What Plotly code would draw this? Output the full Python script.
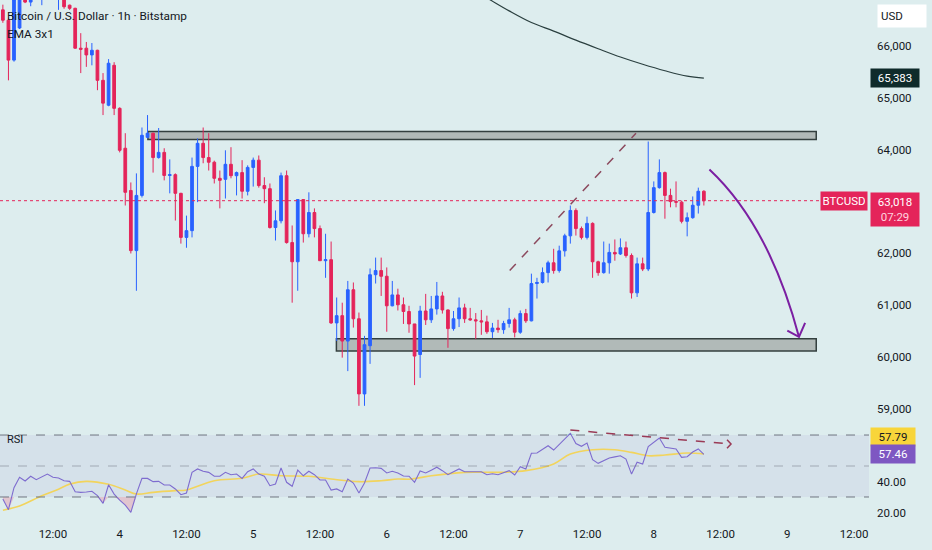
import numpy as np
import pandas as pd
import plotly.graph_objects as go

# BTCUSD 1h candles (Bitstamp), first bar on the 3rd at 03:00
start = "2024-10-03 03:00"
opens = [
    66700, 66500, 65730, 66350, 67000, 66850, 66950, 67100, 67200, 67100,
    67000, 67050, 66790, 66730, 65960, 65960, 65830, 65920, 65340, 64860,
    65630, 64800, 64030, 63215, 62055, 63120, 64240, 64320, 63850, 63950,
    63505, 63520, 63160, 62310, 62440, 63680, 64125, 63850, 63760, 63450,
    63430, 63720, 63500, 63560, 63200, 63660, 63800, 63310, 63250, 62500,
    62630, 63500, 62210, 61840, 63040, 62380, 62790, 62480, 61860, 61880,
    60660, 60800, 60310, 61300, 60740, 59290, 60220, 61590, 61670, 61560,
    60990, 61200, 61010, 60880, 60640, 60050, 60890, 60720, 60930, 61180,
    60910, 60550, 60740, 60950, 60740, 60720, 60700, 60680, 60490, 60560,
    60530, 60650, 60720, 60480, 60840, 60700, 61420, 61440, 61630, 61820,
    61670, 62050, 62340, 62830, 62480, 62310, 62580, 61840, 61630, 61820,
    62020, 61990, 62110, 61960, 61240, 61800, 61700, 62790, 63270, 63560,
    63120, 63000, 62990, 62620, 62690, 62930, 63200,
]
highs = [
    66800, 66550, 67000, 67150, 67050, 66950, 67200, 67250, 67300, 67200,
    67150, 67100, 66800, 66740, 66250, 66080, 66060, 65930, 65480, 65750,
    65690, 64820, 64320, 63370, 63545, 64430, 64670, 64330, 64420, 64030,
    63815, 63545, 63170, 62730, 63850, 64220, 64430, 64320, 63790, 63600,
    63990, 64050, 63580, 63800, 63700, 63850, 63890, 63470, 63350, 62830,
    63560, 63600, 62540, 63040, 63050, 63180, 62870, 62540, 62380, 62230,
    61150, 61050, 61470, 61440, 60860, 60410, 61710, 61920, 61920, 61730,
    61470, 61320, 61150, 60990, 60640, 60990, 61220, 61180, 61450, 61260,
    60920, 60890, 61150, 61030, 60950, 60850, 60910, 60800, 60660, 60720,
    60700, 60950, 60760, 60900, 60930, 61610, 61530, 61730, 61860, 62090,
    62150, 62380, 62925, 62870, 62520, 62710, 62600, 61860, 62230, 62190,
    62270, 62290, 62230, 62000, 61920, 61920, 64160, 63390, 63815, 63580,
    63250, 63390, 63020, 62790, 63100, 63270, 63220,
]
lows = [
    66450, 65340, 65700, 66330, 66830, 66770, 66920, 66790, 67000, 66950,
    66700, 66720, 66700, 65950, 65480, 65600, 65630, 65150, 64670, 64840,
    64670, 63950, 62925, 62000, 61280, 63080, 64220, 63560, 63830, 63410,
    63160, 62635, 62190, 62110, 62310, 62990, 63740, 63600, 63350, 62870,
    63060, 63450, 63120, 63060, 63120, 63290, 63270, 62970, 62480, 62250,
    62580, 62190, 61050, 61280, 62210, 62310, 62310, 61860, 61530, 60640,
    60310, 59990, 59730, 60570, 59060, 59060, 59870, 61420, 61180, 60490,
    60980, 60900, 60640, 60470, 59460, 59600, 60620, 60660, 60820, 60840,
    60180, 60510, 60580, 60660, 60700, 60350, 60430, 60450, 60370, 60470,
    60450, 60570, 60380, 60450, 60660, 60690, 61130, 61420, 61440, 61610,
    61630, 61940, 62190, 62345, 62270, 62270, 61530, 61570, 61610, 61610,
    61860, 61970, 61920, 61130, 61160, 61660, 61660, 62770, 63250, 62670,
    62890, 62890, 62580, 62330, 62670, 62770, 62925,
]
closes = [
    66500, 65730, 66900, 67050, 66850, 66900, 67100, 67200, 67100, 67000,
    67050, 66760, 66730, 65960, 65940, 65830, 65920, 65340, 64900, 65670,
    64800, 63990, 63180, 62055, 63120, 64280, 64320, 63850, 63950, 63505,
    63520, 63160, 62310, 62440, 63680, 64125, 63850, 63760, 63450, 63410,
    63720, 63500, 63560, 63200, 63660, 63800, 63310, 63250, 62500, 62630,
    63500, 62210, 61840, 63040, 62380, 62790, 62480, 61860, 61880, 60660,
    60800, 60310, 61300, 60740, 59290, 60240, 61590, 61670, 61560, 60990,
    61200, 61010, 60880, 60640, 60020, 60890, 60720, 60930, 61180, 60910,
    60550, 60740, 60950, 60740, 60720, 60700, 60680, 60490, 60560, 60530,
    60650, 60720, 60480, 60840, 60700, 61420, 61440, 61630, 61820, 61670,
    62050, 62340, 62830, 62480, 62310, 62580, 61840, 61630, 61820, 62020,
    61990, 62110, 61960, 61240, 61800, 61700, 62790, 63270, 63560, 63120,
    63000, 62990, 62620, 62690, 62930, 63200, 63018,
]
rsi = [
    28.7, 21.8, 36.0, 42.7, 40.3, 43.4, 41.2, 43.0, 44.8, 42.7,
    42.3, 40.5, 40.1, 33.4, 33.0, 33.2, 33.7, 30.9, 25.9, 37.9,
    31.9, 28.0, 24.8, 20.1, 32.0, 42.0, 42.0, 39.9, 40.1, 37.7,
    37.7, 35.2, 31.5, 32.6, 45.9, 48.1, 46.6, 45.9, 43.4, 43.4,
    45.9, 44.4, 44.8, 42.0, 46.3, 48.1, 44.8, 43.4, 37.3, 38.4,
    48.7, 39.5, 36.9, 47.4, 43.7, 46.6, 44.4, 41.0, 41.0, 34.5,
    35.2, 33.4, 41.6, 39.0, 32.6, 39.0, 48.7, 48.9, 48.5, 45.5,
    46.6, 45.5, 43.6, 43.4, 39.5, 46.8, 45.5, 47.3, 49.2, 47.0,
    44.4, 46.3, 48.1, 46.3, 46.2, 46.0, 46.3, 44.4, 45.0, 44.4,
    45.7, 47.0, 44.2, 49.6, 48.1, 58.2, 58.4, 60.8, 63.1, 60.3,
    64.0, 67.3, 71.1, 64.5, 62.7, 64.8, 54.1, 51.7, 53.6, 55.2,
    55.9, 56.6, 54.5, 44.8, 52.4, 51.3, 62.5, 65.4, 68.1, 62.1,
    61.5, 61.0, 55.6, 56.0, 59.0, 61.0, 57.5,
]

# RSI moving average and the long EMA, read at a few hours after the 4th 00:00
ma_hours = [-21, -18, -14, -11, -9, -6, -2, 1, 3, 6, 10, 12, 17, 22, 25, 29, 34, 38,
            43, 47, 50, 52, 54, 56, 62, 68, 73, 78, 81, 85, 89, 92, 95, 98, 102, 105]
rsi_ma = [21.5, 24.2, 30.8, 35.0, 38.3, 40.1, 38.2, 34.5, 31.9, 33.0, 34.1, 34.5,
          40.5, 42.1, 44.8, 43.7, 43.4, 41.6, 39.9, 40.5, 41.6, 41.5, 42.5, 43.7,
          45.9, 45.9, 47.0, 51.3, 57.7, 60.5, 60.5, 58.8, 56.6, 57.1, 58.4, 57.8]
ema_hours = [64, 66, 70, 74, 78, 82, 86, 90, 94, 98, 102, 105]
ema = [67050, 66930, 66680, 66455, 66290, 66115, 65950, 65790, 65650, 65525, 65420, 65383]

# 63,000 sits under the last-price badge, so it is not listed
price_ticks = [59000, 60000, 61000, 62000, 64000, 65000, 66000]
rsi_ticks = [20, 40]
tick_times = pd.date_range("2024-10-03 12:00", "2024-10-09 12:00", freq="12h")
tick_text = ["12:00", "4", "12:00", "5", "12:00", "6", "12:00", "7", "12:00", "8", "12:00", "9", "12:00"]

last_price = 63018
ema_last = 65383
rsi_last = 57.46
rsi_ma_last = 57.79

UP = "#2962ff"
DOWN = "#e4245a"
BG = "#ddedee"
TXT = "#131722"
FONT = "Roboto"

day4 = pd.Timestamp("2024-10-04 00:00")
times = pd.date_range(start, periods=len(closes), freq="h")
ma_times = day4 + pd.to_timedelta(ma_hours, unit="h")
ema_times = day4 + pd.to_timedelta(ema_hours, unit="h")


def pt(ts):
    # date format used inside shape paths
    return pd.Timestamp(ts).strftime("%Y-%m-%d_%H:%M:%S")


fig = go.Figure()

fig.add_trace(go.Candlestick(
    x=times, open=opens, high=highs, low=lows, close=closes,
    increasing=dict(line=dict(color=UP, width=1), fillcolor=UP),
    decreasing=dict(line=dict(color=DOWN, width=1), fillcolor=DOWN),
    whiskerwidth=0, showlegend=False, hoverinfo="skip",
))
fig.add_trace(go.Scatter(
    x=ema_times, y=ema, mode="lines", line=dict(color="#2a3f3f", width=1.2, shape="spline"),
    showlegend=False, hoverinfo="skip",
))

# RSI pane
rsi_arr = np.array(rsi)
n = len(rsi)
fig.add_trace(go.Scatter(x=times, y=[30] * n, yaxis="y2", mode="lines", line=dict(width=0),
                         showlegend=False, hoverinfo="skip"))
fig.add_trace(go.Scatter(x=times, y=np.minimum(rsi_arr, 30), yaxis="y2", mode="lines",
                         line=dict(width=0), fill="tonexty", fillcolor="rgba(242,54,100,0.22)",
                         showlegend=False, hoverinfo="skip"))
fig.add_trace(go.Scatter(x=times, y=[70] * n, yaxis="y2", mode="lines", line=dict(width=0),
                         showlegend=False, hoverinfo="skip"))
fig.add_trace(go.Scatter(x=times, y=np.maximum(rsi_arr, 70), yaxis="y2", mode="lines",
                         line=dict(width=0), fill="tonexty", fillcolor="rgba(8,153,129,0.22)",
                         showlegend=False, hoverinfo="skip"))
fig.add_trace(go.Scatter(x=ma_times, y=rsi_ma, yaxis="y2", mode="lines",
                         line=dict(color="#f2d45c", width=1.6, shape="spline"),
                         showlegend=False, hoverinfo="skip"))
fig.add_trace(go.Scatter(x=times, y=rsi, yaxis="y2", mode="lines",
                         line=dict(color="#7e6ccf", width=1.1),
                         showlegend=False, hoverinfo="skip"))

shapes = [
    dict(type="rect", xref="paper", yref="y2", x0=0, x1=1, y0=30, y1=70,
         fillcolor="rgba(126,87,194,0.08)", line=dict(width=0), layer="below"),
    dict(type="line", xref="paper", yref="y2", x0=0, x1=1, y0=70, y1=70,
         line=dict(color="#6f7580", width=1, dash="dash")),
    dict(type="line", xref="paper", yref="y2", x0=0, x1=1, y0=50, y1=50,
         line=dict(color="rgba(111,117,128,0.5)", width=1, dash="dash")),
    dict(type="line", xref="paper", yref="y2", x0=0, x1=1, y0=30, y1=30,
         line=dict(color="#6f7580", width=1, dash="dash")),
    dict(type="line", xref="paper", yref="y", x0=0, x1=1, y0=last_price, y1=last_price,
         line=dict(color="#e4245a", width=1, dash="dot")),
    # resistance / support zones
    dict(type="rect", xref="x", yref="y", x0="2024-10-04 05:04", x1="2024-10-09 05:12",
         y0=64200, y1=64355, fillcolor="#b1bab8", line=dict(color="#34403f", width=1.5),
         layer="below"),
    dict(type="rect", xref="x", yref="y", x0="2024-10-05 14:57", x1="2024-10-09 05:12",
         y0=60120, y1=60355, fillcolor="#b1bab8", line=dict(color="#34403f", width=1.5),
         layer="below"),
    # rising dashed line
    dict(type="line", xref="x", yref="y", x0="2024-10-06 22:06", y0=61670,
         x1="2024-10-07 20:48", y1=64320, line=dict(color="#8c4a5e", width=1.5, dash="dash")),
    # RSI divergence arrow
    dict(type="line", xref="x", yref="y2", x0="2024-10-07 09:00", y0=73.2,
         x1="2024-10-08 13:53", y1=64.2, line=dict(color="#9a3a56", width=1.5, dash="dash")),
    dict(type="path", xref="x", yref="y2",
         path=f"M {pt('2024-10-08 13:10')},67.0 L {pt('2024-10-08 13:53')},64.2 L {pt('2024-10-08 13:10')},61.4",
         line=dict(color="#9a3a56", width=1.5)),
    # projected move down to support
    dict(type="path", xref="x", yref="y",
         path=f"M {pt('2024-10-08 10:00')},63620 Q {pt('2024-10-08 20:45')},62540 {pt('2024-10-09 02:06')},60390",
         line=dict(color="#7b1fa2", width=2)),
    dict(type="path", xref="x", yref="y",
         path=f"M {pt('2024-10-09 00:00')},60510 L {pt('2024-10-09 02:06')},60390 L {pt('2024-10-09 03:12')},60662",
         line=dict(color="#7b1fa2", width=2)),
]

annotations = [
    dict(xref="paper", yref="paper", x=0, y=1, xanchor="left", yanchor="top", xshift=5, yshift=-7,
         text="Bitcoin / U.S. Dollar · 1h · Bitstamp", showarrow=False,
         font=dict(family=FONT, size=11.8, color=TXT)),
    dict(xref="paper", yref="paper", x=0, y=1, xanchor="left", yanchor="top", xshift=5, yshift=-25,
         text="EMA 3x1", showarrow=False, font=dict(family=FONT, size=11.8, color=TXT)),
    dict(xref="paper", yref="y2", x=0, y=67, xanchor="left", xshift=5,
         text="RSI", showarrow=False, font=dict(family=FONT, size=11, color=TXT)),
    dict(xref="paper", yref="paper", x=1, y=1, xanchor="left", yanchor="top", xshift=8, yshift=-4,
         text="USD", showarrow=False, align="left", width=42, height=16, bgcolor="white",
         borderpad=3, font=dict(family=FONT, size=11.5, color=TXT)),
    dict(xref="paper", yref="y", x=1, y=ema_last, xanchor="left", xshift=1,
         text=f"{ema_last:,}", showarrow=False, width=44, bgcolor="#0f2b2b", borderpad=2,
         font=dict(family=FONT, size=11.5, color="white")),
    dict(xref="paper", yref="y", x=1, y=last_price, xanchor="right", xshift=-1,
         text="BTCUSD", showarrow=False, width=42, bgcolor="#e4245a", borderpad=2,
         font=dict(family=FONT, size=11.5, color="white")),
    dict(xref="paper", yref="y", x=1, y=last_price, xanchor="left", yanchor="top", xshift=1, yshift=9,
         text=f"{last_price:,}<br><span style='color:#ffd3df'>07:29</span>", showarrow=False,
         width=44, bgcolor="#e4245a", borderpad=2,
         font=dict(family=FONT, size=11.5, color="white")),
    dict(xref="paper", yref="y2", x=1, y=68.6, xanchor="left", xshift=1,
         text=f"{rsi_ma_last:.2f}", showarrow=False, width=40, bgcolor="#f8d53a", borderpad=2,
         font=dict(family=FONT, size=11.5, color=TXT)),
    dict(xref="paper", yref="y2", x=1, y=57.7, xanchor="left", xshift=1,
         text=f"{rsi_last:.2f}", showarrow=False, width=40, bgcolor="#7e57c2", borderpad=2,
         font=dict(family=FONT, size=11.5, color="white")),
]

fig.update_layout(
    width=932, height=550,
    margin=dict(l=0, r=63, t=0, b=32),
    paper_bgcolor=BG, plot_bgcolor=BG,
    font=dict(family=FONT, size=11.5, color=TXT),
    hovermode=False, showlegend=False,
    shapes=shapes, annotations=annotations,
    xaxis=dict(
        domain=[0, 1], anchor="y2",
        range=["2024-10-03 02:29", "2024-10-09 14:41"],
        tickvals=tick_times, ticktext=tick_text,
        showgrid=False, zeroline=False, showline=False, ticks="",
        ticklabelstandoff=7,
        rangeslider=dict(visible=False),
        tickfont=dict(family=FONT, size=11.5, color=TXT),
    ),
    yaxis=dict(
        domain=[0.1795, 1], anchor="x", side="right",
        range=[58690, 66890], tickvals=price_ticks, tickformat=",d",
        showgrid=False, zeroline=False, showline=False, ticks="",
        ticklabelstandoff=7,
        tickfont=dict(family=FONT, size=11.5, color=TXT),
    ),
    yaxis2=dict(
        domain=[0, 0.1795], anchor="x", side="right",
        range=[16.45, 76.45], tickvals=rsi_ticks, tickformat=".2f",
        showgrid=False, zeroline=False, showline=False, ticks="",
        ticklabelstandoff=7,
        tickfont=dict(family=FONT, size=11.5, color=TXT),
    ),
)

# drop the browser's default page margin so the figure sits at the window corner
fig.write_html("out.html", config={"displayModeBar": False},
               post_script="document.body.style.margin='0';")
